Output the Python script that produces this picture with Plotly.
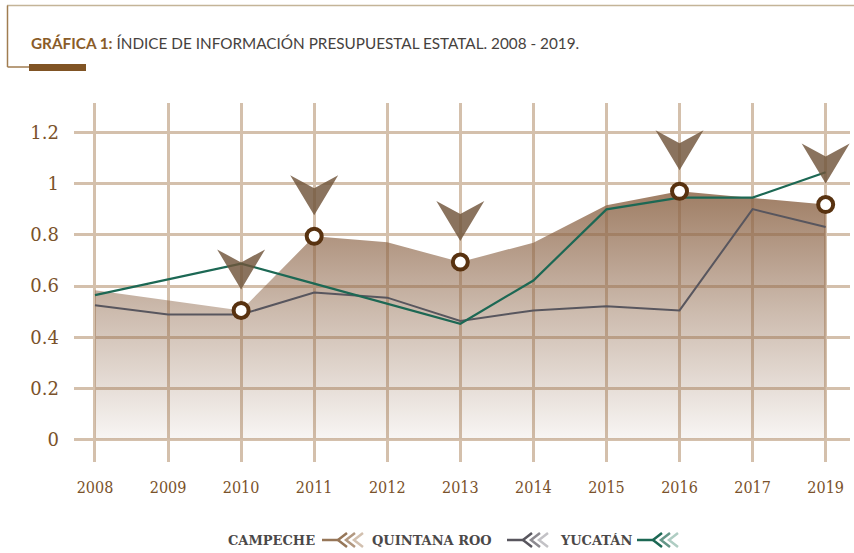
import plotly.graph_objects as go

years = ["2008", "2009", "2010", "2011", "2012", "2013", "2014", "2015", "2016", "2017", "2019"]
campeche = [0.584, 0.545, 0.505, 0.795, 0.772, 0.694, 0.77, 0.916, 0.971, 0.945, 0.919]
quintana_roo = [0.525, 0.489, 0.489, 0.575, 0.555, 0.464, 0.505, 0.521, 0.505, 0.901, 0.831]
yucatan = [0.565, 0.627, 0.688, 0.61, 0.532, 0.453, 0.622, 0.90, 0.946, 0.946, 1.045]
marked_years = ["2010", "2011", "2013", "2016", "2019"]
y_ticks = [0, 0.2, 0.4, 0.6, 0.8, 1, 1.2]
names = ["CAMPECHE", "QUINTANA ROO", "YUCATÁN"]

W, H = 854, 553
L, R, T, B = 74, 4, 103, 91
BROWN = "rgb(122,82,42)"
GRID = "rgb(212,192,172)"

x = list(range(len(years)))
x_range = [-0.287, 10.333]
y_range = [-0.0876, 1.316]
# pixel -> data helpers, used for the arrow markers above the circles
ux = (W - L - R) / (x_range[1] - x_range[0])
uy = (H - T - B) / (y_range[1] - y_range[0])

fig = go.Figure()

fig.add_trace(go.Scatter(
    x=x, y=campeche, mode="lines", name=names[0], line=dict(width=0, color="rgb(150,115,85)"),
    fill="tozeroy",
    fillgradient=dict(type="vertical", start=0, stop=1,
                      colorscale=[[0, "rgba(140,100,70,0.06)"], [0.5, "rgba(140,100,70,0.44)"], [1, "rgba(140,100,70,0.86)"]]),
    showlegend=False))
fig.add_trace(go.Scatter(x=x, y=quintana_roo, mode="lines", name=names[1],
                         line=dict(color="rgb(88,86,94)", width=2), showlegend=False))
fig.add_trace(go.Scatter(x=x, y=yucatan, mode="lines", name=names[2],
                         line=dict(color="rgb(28,104,84)", width=2.2), showlegend=False))

mx = [years.index(y) for y in marked_years]
my = [campeche[i] for i in mx]

# downward arrowheads
ax, ay = [], []
for i, v in zip(mx, my):
    tip, notch, top, half = 21 / uy, 48 / uy, 61 / uy, 24 / ux
    ax += [i, i - half, i, i + half, i, None]
    ay += [v + tip, v + top, v + notch, v + top, v + tip, None]
fig.add_trace(go.Scatter(x=ax, y=ay, mode="lines", fill="toself", line=dict(width=0),
                         fillcolor="rgba(112,84,58,0.82)", hoverinfo="skip", showlegend=False))

fig.add_trace(go.Scatter(x=mx, y=my, mode="markers", showlegend=False,
                         marker=dict(size=15, color="white", line=dict(color="rgb(88,50,16)", width=4))))


def px(v):
    return (v - L) / (W - L - R)


def py(v):
    return (H - B - v) / (H - T - B)


shapes = [
    dict(type="line", xref="paper", yref="paper", x0=px(7), x1=px(854), y0=py(5.5), y1=py(5.5),
         line=dict(color="rgb(196,180,152)", width=1.5)),
    dict(type="line", xref="paper", yref="paper", x0=px(7.5), x1=px(7.5), y0=py(5.5), y1=py(67),
         line=dict(color="rgb(160,125,80)", width=1.5)),
    dict(type="line", xref="paper", yref="paper", x0=px(7.5), x1=px(30), y0=py(67), y1=py(67),
         line=dict(color="rgb(160,125,80)", width=1.5)),
    dict(type="rect", xref="paper", yref="paper", x0=px(29), x1=px(86), y0=py(64), y1=py(71),
         fillcolor="rgb(128,84,36)", line=dict(width=0)),
]

annotations = [
    dict(xref="paper", yref="paper", x=px(29), y=py(43), xanchor="left", yanchor="middle", showarrow=False,
         text="<b><span style='color:rgb(138,92,40)'>GRÁFICA 1:</span></b> ÍNDICE DE INFORMACIÓN PRESUPUESTAL ESTATAL. 2008 - 2019.",
         font=dict(family="Lato", size=15.3, color="rgb(70,66,62)")),
]

# legend: name, then a short line with feather chevrons
legend_items = [
    (names[0], 317, 322, ["rgb(150,118,88)", "rgb(178,152,128)", "rgb(210,192,175)"]),
    (names[1], 494, 507, ["rgb(88,86,94)", "rgb(140,138,144)", "rgb(195,194,198)"]),
    (names[2], 634, 637, ["rgb(28,104,84)", "rgb(100,150,135)", "rgb(175,205,195)"]),
]
ly = 540
for name, tx, lx, cols in legend_items:
    annotations.append(dict(xref="paper", yref="paper", x=px(tx), y=py(ly), xanchor="right", yanchor="middle",
                            showarrow=False, text="<b>" + name + "</b>",
                            font=dict(family="DejaVu Serif", size=13, color="rgb(75,72,72)")))
    shapes.append(dict(type="line", xref="paper", yref="paper", x0=px(lx), x1=px(lx + 18), y0=py(ly), y1=py(ly),
                       line=dict(color=cols[0], width=2.5)))
    for k, c in enumerate(cols):
        cx = lx + 16 + k * 8
        shapes.append(dict(type="path", xref="paper", yref="paper",
                           path="M %f %f L %f %f L %f %f" % (px(cx + 9), py(ly - 7), px(cx), py(ly), px(cx + 9), py(ly + 7)),
                           line=dict(color=c, width=2.5)))

fig.update_layout(
    width=W, height=H, margin=dict(l=L, r=R, t=T, b=B),
    paper_bgcolor="white", plot_bgcolor="white",
    shapes=shapes, annotations=annotations, showlegend=False,
    xaxis=dict(range=x_range, tickvals=x, ticktext=years, showgrid=True, gridcolor=GRID, gridwidth=3,
               zeroline=False, showline=False, ticks="", ticklabelstandoff=14,
               tickfont=dict(family="DejaVu Serif Condensed, DejaVu Serif", size=16, color=BROWN)),
    yaxis=dict(range=y_range, tickvals=y_ticks, showgrid=True, gridcolor=GRID, gridwidth=3,
               zeroline=False, showline=False, ticks="", ticklabelstandoff=14,
               tickfont=dict(family="DejaVu Serif", size=18, color=BROWN)),
)

fig.write_html("out.html", config={"displayModeBar": False},
               post_script="document.body.style.margin='0px';")
